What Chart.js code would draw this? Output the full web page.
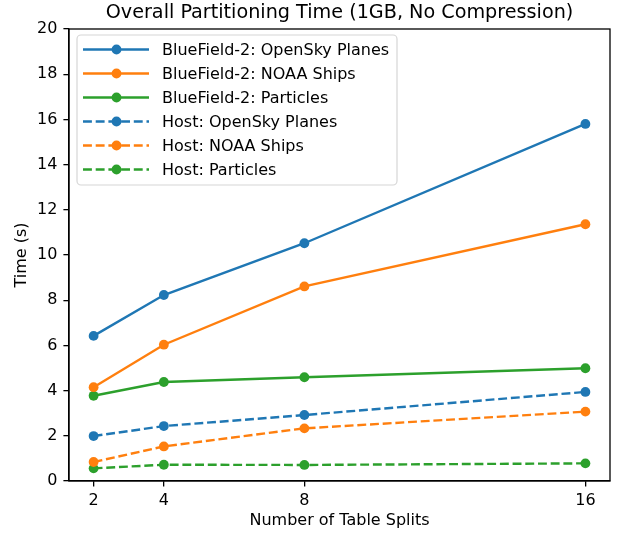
<!DOCTYPE html>
<html>
<head>
<meta charset="utf-8">
<script src="https://cdn.jsdelivr.net/npm/chart.js@4/dist/chart.umd.min.js"></script>
<style>
  html, body { margin: 0; padding: 0; background: #fff; }
  #wrap { width: 617px; height: 534px; }
</style>
</head>
<body>
<div id="wrap"><canvas id="c" width="617" height="534"></canvas></div>
<script>
var splits = [2, 4, 8, 16];
var yTicks = [0, 2, 4, 6, 8, 10, 12, 14, 16, 18, 20];

var bf_opensky = [6.42, 8.23, 10.52, 15.80];
var bf_noaa = [4.15, 6.03, 8.61, 11.36];
var bf_particles = [3.77, 4.38, 4.59, 4.99];
var host_opensky = [1.99, 2.43, 2.92, 3.94];
var host_noaa = [0.84, 1.53, 2.33, 3.07];
var host_particles = [0.56, 0.72, 0.71, 0.78];

var BLUE = "#1f77b4", ORANGE = "#ff7f0e", GREEN = "#2ca02c";
var FONT = "'DejaVu Sans', sans-serif";
var FS = 16;
var DASH = [8.9, 3.8];

function series(label, values, color, dashed) {
  return {
    label: label,
    data: values.map(function (v, i) { return { x: splits[i], y: v }; }),
    borderColor: color,
    backgroundColor: color,
    borderWidth: 2.4,
    borderDash: dashed ? DASH : [],
    pointRadius: 4.9,
    pointHoverRadius: 4.9,
    pointBorderWidth: 0,
    tension: 0
  };
}

// matplotlib style frame, title and in-axes legend
const frame = {
  id: "frame",
  afterDraw(chart) {
    const ctx = chart.ctx;
    const a = chart.chartArea;
    ctx.save();
    ctx.strokeStyle = "#000";
    ctx.lineWidth = 1.3;
    ctx.strokeRect(a.left, a.top, a.right - a.left, a.bottom - a.top);

    ctx.fillStyle = "#000";
    ctx.font = "19.2px " + FONT;
    ctx.textAlign = "center";
    ctx.textBaseline = "middle";
    ctx.fillText("Overall Partitioning Time (1GB, No Compression)", (a.left + a.right) / 2, 13);

    // legend
    const x0 = a.left + 8, y0 = a.top + 6, w = 320, h = 150;
    ctx.beginPath();
    ctx.roundRect(x0, y0, w, h, 4);
    ctx.fillStyle = "rgba(255,255,255,0.8)";
    ctx.fill();
    ctx.strokeStyle = "#d6d6d6";
    ctx.lineWidth = 1.2;
    ctx.stroke();

    ctx.font = FS + "px " + FONT;
    ctx.textAlign = "left";
    chart.data.datasets.forEach(function (ds, i) {
      const cy = y0 + 14.5 + i * 24;
      ctx.beginPath();
      ctx.setLineDash(ds.borderDash);
      ctx.strokeStyle = ds.borderColor;
      ctx.lineWidth = ds.borderWidth;
      ctx.moveTo(x0 + 6, cy);
      ctx.lineTo(x0 + 72, cy);
      ctx.stroke();
      ctx.setLineDash([]);
      ctx.beginPath();
      ctx.arc(x0 + 39.5, cy, ds.pointRadius, 0, Math.PI * 2);
      ctx.fillStyle = ds.backgroundColor;
      ctx.fill();
      ctx.fillStyle = "#000";
      ctx.fillText(ds.label, x0 + 85, cy + 1);
    });
    ctx.restore();
  }
};

new Chart(document.getElementById("c"), {
  type: "line",
  data: {
    datasets: [
      series("BlueField-2: OpenSky Planes", bf_opensky, BLUE, false),
      series("BlueField-2: NOAA Ships", bf_noaa, ORANGE, false),
      series("BlueField-2: Particles", bf_particles, GREEN, false),
      series("Host: OpenSky Planes", host_opensky, BLUE, true),
      series("Host: NOAA Ships", host_noaa, ORANGE, true),
      series("Host: Particles", host_particles, GREEN, true)
    ]
  },
  options: {
    responsive: false,
    animation: false,
    devicePixelRatio: 1,
    layout: { padding: { left: 0, top: 29, right: 7, bottom: 0 } },
    plugins: {
      legend: { display: false },
      title: { display: false },
      tooltip: { enabled: false }
    },
    scales: {
      x: {
        type: "linear",
        min: 1.3,
        max: 16.7,
        afterBuildTicks(scale) { scale.ticks = splits.map(function (v) { return { value: v }; }); },
        afterFit(scale) { scale.height = 53; },
        grid: { drawOnChartArea: false, drawTicks: true, tickLength: 5.6, color: "#000", lineWidth: 1.3 },
        border: { display: true, color: "#000", width: 1.3 },
        ticks: { color: "#000", font: { family: FONT, size: FS }, padding: 5, maxRotation: 0 },
        title: { display: true, text: "Number of Table Splits", color: "#000", font: { family: FONT, size: FS }, padding: { top: 0, bottom: 3.4 } }
      },
      y: {
        min: 0,
        max: 20,
        afterBuildTicks(scale) { scale.ticks = yTicks.map(function (v) { return { value: v }; }); },
        afterFit(scale) { scale.width = 69; },
        grid: { drawOnChartArea: false, drawTicks: true, tickLength: 5.6, color: "#000", lineWidth: 1.3 },
        border: { display: true, color: "#000", width: 1.3 },
        ticks: { color: "#000", font: { family: FONT, size: FS }, padding: 6 },
        title: { display: true, text: "Time (s)", color: "#000", font: { family: FONT, size: FS }, padding: { top: 12, bottom: 0 } }
      }
    }
  },
  plugins: [frame]
});
</script>
</body>
</html>
